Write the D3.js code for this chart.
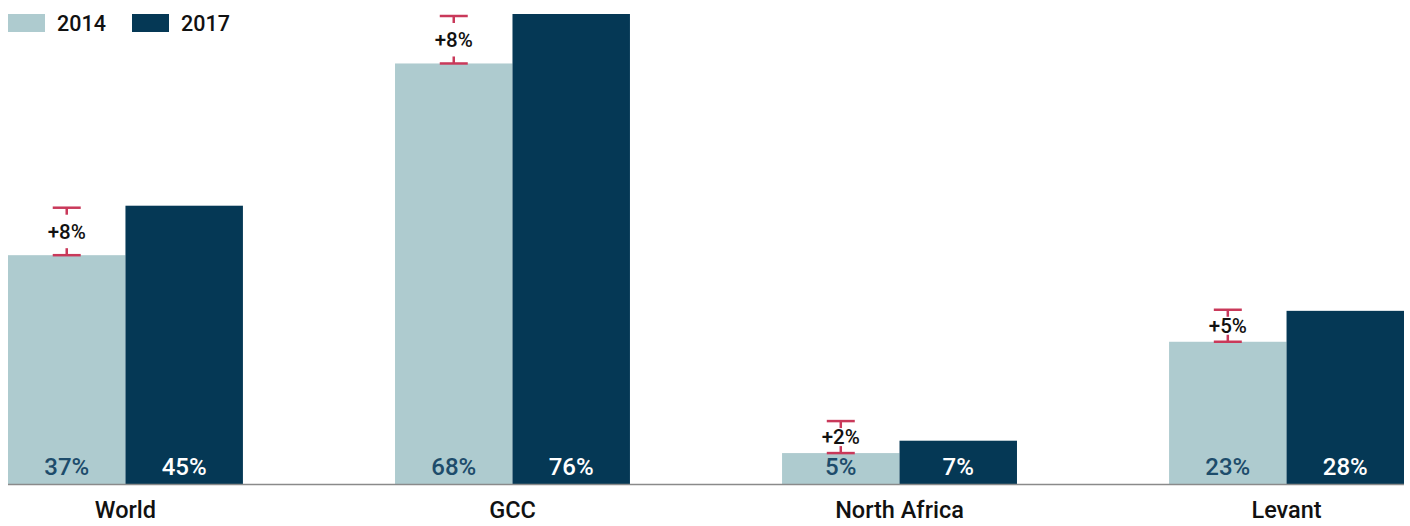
<!DOCTYPE html>
<html>
<head>
<meta charset="utf-8">
<script src="https://cdn.jsdelivr.net/npm/d3@7"></script>
<style>
  body { margin: 0; background: #fff; }
  svg { display: block; font-family: Roboto, "Noto Sans", sans-serif; }
</style>
</head>
<body>
<div id="chart"></div>
<script>
const regions = ["World", "GCC", "North Africa", "Levant"]
const years = ["2014", "2017"]
const values2014 = [37, 68, 5, 23]
const values2017 = [45, 76, 7, 28]
const changes = ["+8%", "+8%", "+2%", "+5%"]

const W = 1410, H = 526
const margin = { top: 14, right: 6, bottom: 42, left: 8 }
const colors = { "2014": "#aecbcf", "2017": "#053855" }
const red = "#c9395a"

const svg = d3.select("#chart").append("svg")
  .attr("width", W)
  .attr("height", H)

const x = d3.scaleBand()
  .domain(regions)
  .range([margin.left, W - margin.right])
  .paddingInner(0.393)
  .paddingOuter(0)

const xInner = d3.scaleBand()
  .domain(years)
  .range([0, x.bandwidth()])

const y = d3.scaleLinear()
  .domain([0, d3.max(values2017)])
  .range([H - margin.bottom, margin.top])

const rows = regions.map((r, i) => ({
  region: r, v14: values2014[i], v17: values2017[i], change: changes[i]
}))

// bars
const groups = svg.append("g")
  .selectAll("g")
  .data(rows)
  .join("g")
  .attr("transform", d => `translate(${x(d.region)},0)`)

groups.selectAll("rect")
  .data(d => [{ year: "2014", v: d.v14 }, { year: "2017", v: d.v17 }])
  .join("rect")
  .attr("x", d => xInner(d.year))
  .attr("y", d => y(d.v))
  .attr("width", xInner.bandwidth())
  .attr("height", d => y(0) - y(d.v))
  .attr("fill", d => colors[d.year])

groups.selectAll("text.value")
  .data(d => [{ year: "2014", v: d.v14 }, { year: "2017", v: d.v17 }])
  .join("text")
  .attr("class", "value")
  .attr("x", d => xInner(d.year) + xInner.bandwidth() / 2)
  .attr("y", y(0) - 9)
  .attr("text-anchor", "middle")
  .attr("font-size", 24)
  .attr("font-weight", 500)
  .attr("fill", d => d.year === "2014" ? "#1d4c6b" : "#fff")
  .text(d => d.v + "%")

// change brackets over the 2014 bar
const bracket = groups.append("g")
  .attr("transform", d => `translate(${xInner("2014") + xInner.bandwidth() / 2},0)`)

bracket.each(function(d) {
  const g = d3.select(this)
  const bottom = y(d.v14)
  const top = Math.min(y(d.v17) + 2, bottom - 32)
  const mid = (top + bottom) / 2
  const stem = 7
  g.append("line").attr("x1", -14).attr("x2", 14).attr("y1", top).attr("y2", top)
  g.append("line").attr("x1", -14).attr("x2", 14).attr("y1", bottom).attr("y2", bottom)
  g.append("line").attr("x1", 0).attr("x2", 0).attr("y1", top).attr("y2", top + stem)
  g.append("line").attr("x1", 0).attr("x2", 0).attr("y1", bottom - stem).attr("y2", bottom)
  g.selectAll("line").attr("stroke", red).attr("stroke-width", 2.5)
  g.append("text")
    .attr("y", mid)
    .attr("dy", "0.36em")
    .attr("text-anchor", "middle")
    .attr("font-size", 20.5)
    .attr("font-weight", 500)
    .attr("fill", "#111")
    .text(d.change)
})

// baseline + region labels
svg.append("line")
  .attr("x1", margin.left).attr("x2", W - margin.right)
  .attr("y1", y(0) + 0.5).attr("y2", y(0) + 0.5)
  .attr("stroke", "#8a8a8a")
  .attr("stroke-width", 1.5)

const xAxis = svg.append("g")
  .attr("transform", `translate(0,${y(0)})`)
  .call(d3.axisBottom(x).tickSize(0).tickPadding(17))
xAxis.select(".domain").remove()
xAxis.selectAll("text")
  .attr("font-family", "Roboto, sans-serif")
  .attr("font-size", 23.5)
  .attr("font-weight", 500)
  .attr("fill", "#111")

// legend
const legend = svg.append("g")
  .selectAll("g")
  .data(years)
  .join("g")
  .attr("transform", (d, i) => `translate(${8 + i * 124},14)`)

legend.append("rect")
  .attr("width", 37)
  .attr("height", 18)
  .attr("fill", d => colors[d])

legend.append("text")
  .attr("x", 49)
  .attr("y", 9)
  .attr("dy", "0.36em")
  .attr("font-size", 21.5)
  .attr("font-weight", 500)
  .attr("fill", "#111")
  .text(d => d)
</script>
</body>
</html>
